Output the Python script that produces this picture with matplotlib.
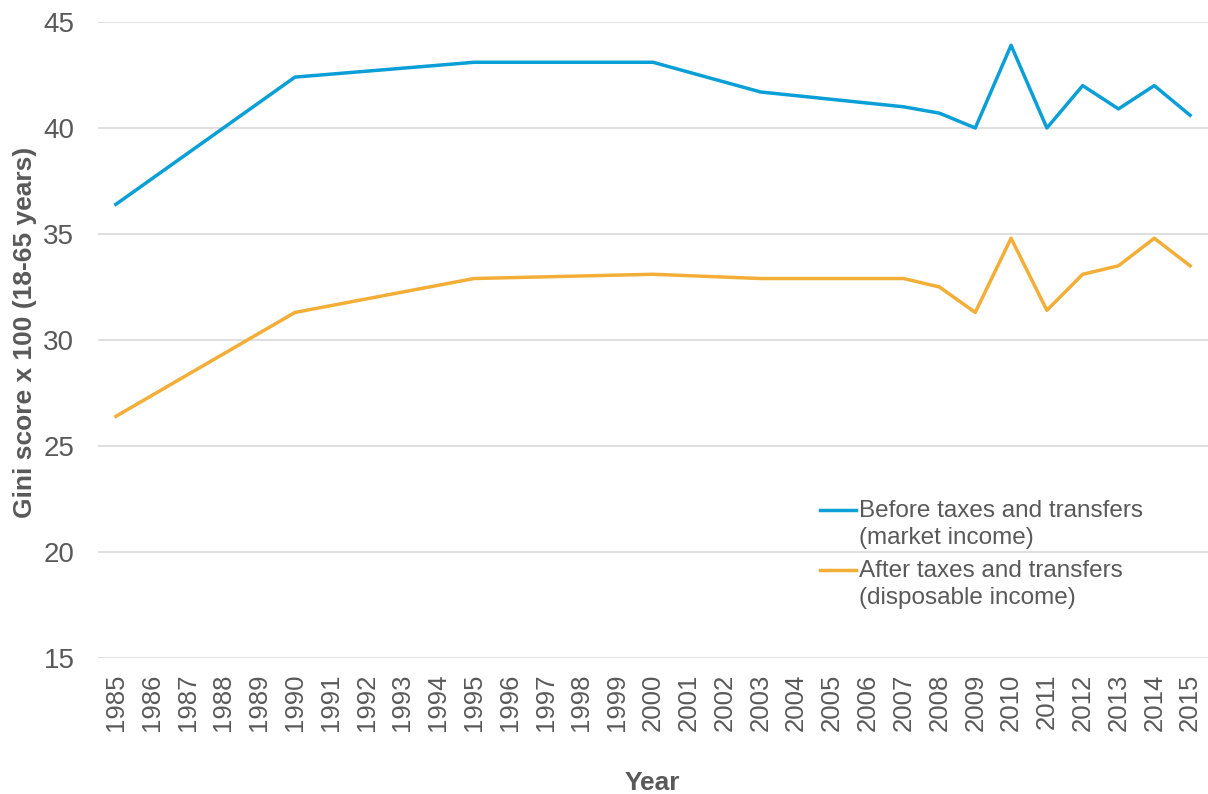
import matplotlib.pyplot as plt
from matplotlib.legend_handler import HandlerLine2D

# Datos
years = [1985, 1990, 1995, 2000, 2003, 2007, 2008, 2009, 2010, 2011, 2012, 2013, 2014, 2015]
before = [36.4, 42.4, 43.1, 43.1, 41.7, 41.0, 40.7, 40.0, 43.9, 40.0, 42.0, 40.9, 42.0, 40.6]
after = [26.4, 31.3, 32.9, 33.1, 32.9, 32.9, 32.5, 31.3, 34.8, 31.4, 33.1, 33.5, 34.8, 33.5]
tick_years = list(range(1985, 2016))

label_before = 'Before taxes and transfers\n(market income)'
label_after = 'After taxes and transfers\n(disposable income)'

gray = '#595959'
plt.rcParams['font.family'] = ['Liberation Sans', 'DejaVu Sans']


# linea de la leyenda a la altura de la primera linea de texto (como en Excel)
class HandlerArriba(HandlerLine2D):
    def create_artists(self, legend, orig_handle, xdescent, ydescent, width, height, fontsize, trans):
        arts = super().create_artists(legend, orig_handle, xdescent, ydescent, width, height, fontsize, trans)
        for a in arts:
            a.set_ydata([y + 0.6 * fontsize for y in a.get_ydata()])
        return arts


fig = plt.figure(figsize=(12.08, 7.94), dpi=100)
ax = fig.add_axes([98 / 1208, 136 / 794, 1 - 98 / 1208, 636 / 794])

ax.plot(years, before, color='#0A9FD6', lw=2.5, label=label_before)
ax.plot(years, after, color='#F3AE37', lw=2.5, label=label_after)

ax.set_xlim(1984.5, 2015.5)
ax.set_ylim(15, 45)
ax.set_yticks([15, 20, 25, 30, 35, 40, 45])
ax.set_xticks(tick_years)
ax.set_xticklabels([str(y) for y in tick_years], rotation=90)
ax.tick_params(axis='y', length=0, pad=17, labelsize=20, labelcolor=gray)
ax.tick_params(axis='x', length=0, pad=11, labelsize=18.5, labelcolor=gray)
ax.grid(axis='y', color='#D9D9D9', lw=1.2)
ax.set_axisbelow(True)
for s in ax.spines.values():
    s.set_visible(False)

fig.text(25 / 1208, (794 - 332) / 794, 'Gini score x 100 (18-65 years)', rotation=90,
         ha='center', va='center', fontsize=19, fontweight='bold', color=gray)
fig.text(652 / 1208, 1 - 783 / 794, 'Year', ha='center', va='center',
         fontsize=19, fontweight='bold', color=gray)

leg = ax.legend(loc='upper left', bbox_to_anchor=(820 / 1208, 1 - 500 / 794),
                bbox_transform=fig.transFigure, frameon=False, fontsize=17.5,
                handlelength=1.5, handletextpad=0.1, borderpad=0, borderaxespad=0,
                labelspacing=0.45,
                handler_map={plt.Line2D: HandlerArriba()})
for t in leg.get_texts():
    t.set_color(gray)
    t.set_linespacing(1.3)

fig.savefig('out.png', dpi=100)
